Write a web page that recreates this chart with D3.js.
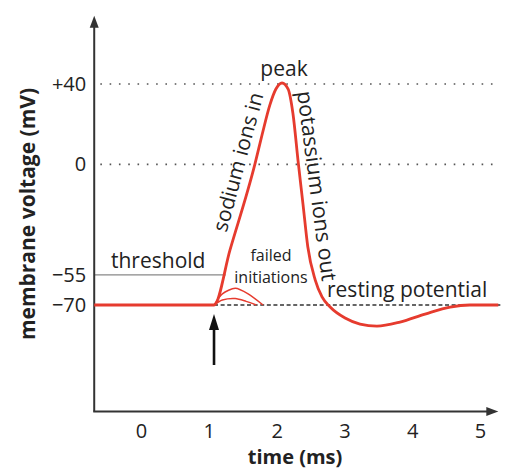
<!DOCTYPE html>
<html>
<head>
<meta charset="utf-8">
<script src="https://cdn.jsdelivr.net/npm/d3@7"></script>
<style>
  html, body { margin: 0; padding: 0; background: #fff; }
  svg { display: block; }
  text { font-family: "Open Sans", "Noto Sans", sans-serif; fill: #222; }
</style>
</head>
<body>
<svg id="chart" width="508" height="470"></svg>
<script>
// ---- data ----
const xTicks = [0, 1, 2, 3, 4, 5];
const yTicks = [40, 0, -55, -70];
const yTickLabels = ["+40", "0", "\u221255", "\u221270"];

// action potential (time ms, voltage mV)
const apTime = [-0.69, 1.077, 1.313, 1.681, 1.785, 1.90, 1.99, 2.08, 2.17, 2.24, 2.32, 2.39, 2.46, 2.57, 2.67, 2.79, 3.01, 3.23, 3.48, 3.82, 4.19, 4.56, 4.85, 5.27];
const apVolt = [-70, -70, -42.6, 0.2, 14.6, 29.5, 37.5, 40.5, 37.5, 25.6, 0.7, -20, -41, -57.6, -66, -71, -76.5, -79.5, -80.5, -78.5, -74.5, -71, -70, -70];

// failed initiations
const fail1Time = [1.077, 1.2, 1.39, 1.58, 1.8];
const fail1Volt = [-70, -64.5, -61.7, -64.5, -70];
const fail2Time = [1.077, 1.2, 1.39, 1.55, 1.7];
const fail2Volt = [-70, -67.5, -66.8, -68.2, -70];

const restingV = -70, thresholdV = -55, peakV = 40, zeroV = 0;
const stimulusT = 1.077;
const xDomainExt = [-0.69, 5.27];
const yDomainExt = [-123, 74];

// ---- scales ----
const svg = d3.select("#chart");
const x = d3.scaleLinear().domain([0, 5]).range([141, 480]);
const y = d3.scaleLinear().domain([40, -70]).range([84, 305]);

const red = "#e63b2e";
const axisCol = "#333";

// dotted reference lines (+40 and 0)
[peakV, zeroV].forEach(v => {
  svg.append("line")
    .attr("x1", x(-0.6)).attr("x2", x(5.25))
    .attr("y1", y(v)).attr("y2", y(v))
    .attr("stroke", "#555").attr("stroke-width", 1.6)
    .attr("stroke-dasharray", "1.6,7.7");
});

// threshold line
svg.append("line")
  .attr("x1", x(xDomainExt[0])).attr("x2", x(1.25))
  .attr("y1", y(thresholdV)).attr("y2", y(thresholdV))
  .attr("stroke", "#888").attr("stroke-width", 1.4);

// resting dashed line
svg.append("line")
  .attr("x1", x(stimulusT)).attr("x2", x(5.3))
  .attr("y1", y(restingV)).attr("y2", y(restingV))
  .attr("stroke", "#333").attr("stroke-width", 1.6)
  .attr("stroke-dasharray", "4,2.6");

// axes lines with arrows
svg.append("line")
  .attr("x1", x(xDomainExt[0])).attr("x2", x(xDomainExt[0]))
  .attr("y1", y(yDomainExt[0])).attr("y2", y(yDomainExt[1]) + 8)
  .attr("stroke", axisCol).attr("stroke-width", 2);
svg.append("path")
  .attr("d", d3.line()([[x(xDomainExt[0]), y(yDomainExt[1])], [x(xDomainExt[0]) - 4.5, y(yDomainExt[1]) + 12], [x(xDomainExt[0]) + 4.5, y(yDomainExt[1]) + 12]]) + "Z")
  .attr("fill", axisCol);
svg.append("line")
  .attr("x1", x(xDomainExt[0]) - 1).attr("x2", x(xDomainExt[1]) - 8)
  .attr("y1", y(yDomainExt[0])).attr("y2", y(yDomainExt[0]))
  .attr("stroke", axisCol).attr("stroke-width", 2);
svg.append("path")
  .attr("d", d3.line()([[x(xDomainExt[1]), y(yDomainExt[0])], [x(xDomainExt[1]) - 12, y(yDomainExt[0]) - 4.5], [x(xDomainExt[1]) - 12, y(yDomainExt[0]) + 4.5]]) + "Z")
  .attr("fill", axisCol);

// tick labels via d3 axes
const xAxis = d3.axisBottom(x).tickValues(xTicks).tickSize(0).tickPadding(12).tickFormat(d3.format("d"));
const gx = svg.append("g").attr("transform", `translate(0,${y(yDomainExt[0])})`).call(xAxis);
gx.select(".domain").remove();
gx.selectAll("text").attr("font-size", 20).attr("fill", "#222")
  .attr("font-family", "'Open Sans', sans-serif");

const yAxis = d3.axisLeft(y).tickValues(yTicks).tickSize(0).tickPadding(8)
  .tickFormat((d, i) => yTickLabels[i]);
const gy = svg.append("g").attr("transform", `translate(${x(xDomainExt[0])},0)`).call(yAxis);
gy.select(".domain").remove();
gy.selectAll("text").attr("font-size", 20).attr("fill", "#222")
  .attr("font-family", "'Open Sans', sans-serif");

// curves
const line = d3.line().x(d => x(d[0])).y(d => y(d[1])).curve(d3.curveMonotoneX);
const fail1 = fail1Time.map((t, i) => [t, fail1Volt[i]]);
const fail2 = fail2Time.map((t, i) => [t, fail2Volt[i]]);
const ap = apTime.map((t, i) => [t, apVolt[i]]);
const smooth = d3.line().x(d => x(d[0])).y(d => y(d[1])).curve(d3.curveCardinal.tension(0.2));
svg.append("path").attr("d", smooth(fail1)).attr("fill", "none").attr("stroke", red).attr("stroke-width", 1.5);
svg.append("path").attr("d", smooth(fail2)).attr("fill", "none").attr("stroke", red).attr("stroke-width", 1.5);
svg.append("path").attr("d", line(ap)).attr("fill", "none").attr("stroke", red).attr("stroke-width", 2.8)
  .attr("stroke-linejoin", "round");

// stimulus arrow
const ax = x(stimulusT);
svg.append("line").attr("x1", ax).attr("x2", ax).attr("y1", 365).attr("y2", 326)
  .attr("stroke", "#111").attr("stroke-width", 2.6);
svg.append("path")
  .attr("d", d3.line()([[ax, 314], [ax - 5, 330], [ax + 5, 330]]) + "Z")
  .attr("fill", "#111");

// annotations
function label(txt, px, py, opts = {}) {
  const t = svg.append("text").text(txt)
    .attr("x", px).attr("y", py)
    .attr("font-size", opts.size || 18)
    .attr("text-anchor", opts.anchor || "start");
  if (opts.weight) t.attr("font-weight", opts.weight);
  if (opts.rotate !== undefined) t.attr("transform", `rotate(${opts.rotate},${px},${py})`).attr("dy", "0.35em");
  return t;
}
label("peak", 284, 76, { anchor: "middle", size: 21 });
label("threshold", 111, 268, { size: 21 });
label("failed", 271, 261, { anchor: "middle", size: 16 });
label("initiations", 271, 283, { anchor: "middle", size: 16 });
label("resting potential", 327, 297, { size: 21 });
label("sodium ions in", 238, 162, { anchor: "middle", size: 21, rotate: -75 });
label("potassium ions out", 317, 186, { anchor: "middle", size: 21.5, rotate: 82.5 });

// axis titles
label("time (ms)", 295, 464, { anchor: "middle", size: 20, weight: "bold" });
label("membrane voltage (mV)", 28, 214, { anchor: "middle", size: 21, weight: "bold", rotate: -90 });
</script>
</body>
</html>
